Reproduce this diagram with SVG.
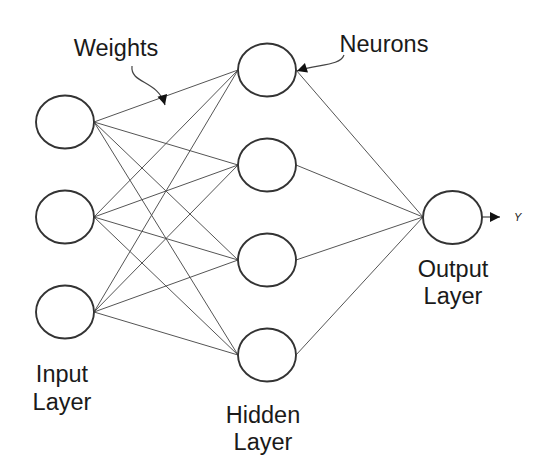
<svg xmlns="http://www.w3.org/2000/svg" width="542" height="470" viewBox="0 0 542 470">
<style>
.node{fill:#fff;stroke:#333;stroke-width:1.9}
.edge{stroke:#555;stroke-width:1;fill:none}
.call{stroke:#444;stroke-width:1.2;fill:none}
.lbl{font-family:"Liberation Sans",Arial,sans-serif;font-size:23.5px;fill:#1a1a1a;text-anchor:middle}
</style>
<defs>
<marker id="ah" viewBox="0 0 10 10" refX="10" refY="5" markerWidth="11" markerHeight="10" markerUnits="userSpaceOnUse" orient="auto">
<path d="M0,0 L10,5 L0,10 z" fill="#111"/>
</marker>
</defs>
<rect width="542" height="470" fill="#fff"/>
<g id="connectors">
<line class="edge" x1="94" y1="122" x2="238" y2="70"/>
<line class="edge" x1="94" y1="122" x2="238" y2="165"/>
<line class="edge" x1="94" y1="122" x2="238" y2="260"/>
<line class="edge" x1="94" y1="122" x2="238" y2="355"/>
<line class="edge" x1="94" y1="217" x2="238" y2="70"/>
<line class="edge" x1="94" y1="217" x2="238" y2="165"/>
<line class="edge" x1="94" y1="217" x2="238" y2="260"/>
<line class="edge" x1="94" y1="217" x2="238" y2="355"/>
<line class="edge" x1="94" y1="312" x2="238" y2="70"/>
<line class="edge" x1="94" y1="312" x2="238" y2="165"/>
<line class="edge" x1="94" y1="312" x2="238" y2="260"/>
<line class="edge" x1="94" y1="312" x2="238" y2="355"/>
<line class="edge" x1="296" y1="70" x2="423" y2="217"/>
<line class="edge" x1="296" y1="165" x2="423" y2="217"/>
<line class="edge" x1="296" y1="260" x2="423" y2="217"/>
<line class="edge" x1="296" y1="355" x2="423" y2="217"/>
<line class="call" x1="482" y1="217" x2="500" y2="217" marker-end="url(#ah)"/>
<path class="call" d="M132,66 C130,84 158,80 165,105" marker-end="url(#ah)"/>
<path class="call" d="M344,55 C340,66 318,64 297,71" marker-end="url(#ah)"/>
</g>
<g id="input1"><ellipse class="node" cx="65" cy="122" rx="29" ry="26.5"/></g>
<g id="input2"><ellipse class="node" cx="65" cy="217" rx="29" ry="26.5"/></g>
<g id="input3"><ellipse class="node" cx="65" cy="312" rx="29" ry="26.5"/></g>
<g id="hidden1"><ellipse class="node" cx="267" cy="70" rx="29" ry="26.5"/></g>
<g id="hidden2"><ellipse class="node" cx="267" cy="165" rx="29" ry="26.5"/></g>
<g id="hidden3"><ellipse class="node" cx="267" cy="260" rx="29" ry="26.5"/></g>
<g id="hidden4"><ellipse class="node" cx="267" cy="355" rx="29" ry="26.5"/></g>
<g id="output"><ellipse class="node" cx="452.5" cy="217.5" rx="29.5" ry="26.5"/></g>
<g id="labels">
<text class="lbl" x="116" y="56">Weights</text>
<text class="lbl" x="384" y="52">Neurons</text>
<text x="514" y="221" font-family="Liberation Sans,Arial,sans-serif" font-size="11" font-style="italic" fill="#222">Y</text>
<text class="lbl" x="453" y="277">Output</text>
<text class="lbl" x="453" y="304">Layer</text>
<text class="lbl" x="62" y="382">Input</text>
<text class="lbl" x="62" y="410">Layer</text>
<text class="lbl" x="263" y="423">Hidden</text>
<text class="lbl" x="263" y="450">Layer</text>
</g>
</svg>
